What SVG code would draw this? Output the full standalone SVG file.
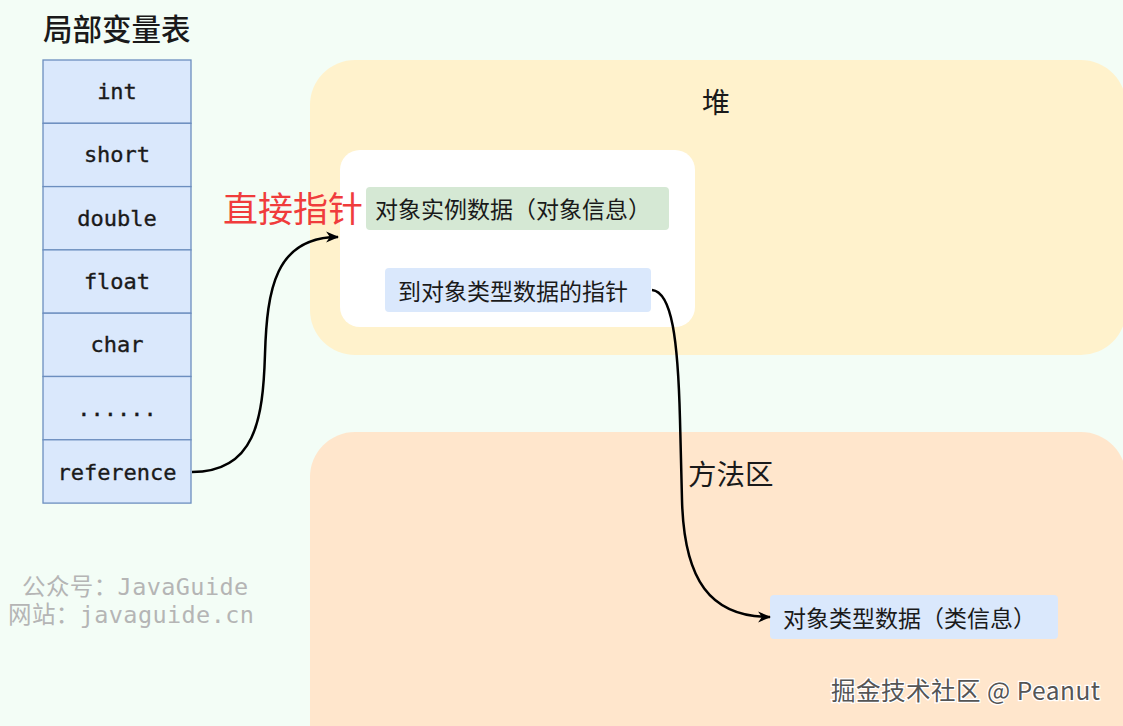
<svg xmlns="http://www.w3.org/2000/svg" width="1123" height="726" viewBox="0 0 1123 726">
<style>
.cjk{font-family:"Noto Sans CJK SC","Liberation Sans",sans-serif;}
.mono{font-family:"DejaVu Sans Mono","Liberation Mono","Noto Sans CJK SC",monospace;font-size:22px;fill:#1a1a1a;stroke:#1a1a1a;stroke-width:0.35;text-anchor:middle;}
.cell{fill:#dae8fc;stroke:#6c8ebf;stroke-width:1.3;}
.boxtxt{font-family:"Noto Sans CJK SC","Liberation Sans",sans-serif;font-size:23px;fill:#1a1a1a;}
.wm{font-family:"DejaVu Sans Mono","Noto Sans CJK SC",monospace;font-size:23.5px;fill:#b5b5b5;letter-spacing:0.4px;}
.conn{fill:none;stroke:#000;stroke-width:2.5;}
</style>
<defs>
<marker id="arrow" viewBox="0 0 12 12" refX="11" refY="6" markerWidth="13" markerHeight="13" markerUnits="userSpaceOnUse" orient="auto">
<path d="M0,1 L12,6 L0,11 L3.5,6 Z" fill="#000"/>
</marker>
</defs>
<rect x="0" y="0" width="1123" height="726" fill="#f3fdf6"/>

<g id="heap">
<rect x="310" y="60" width="816" height="295" rx="45" ry="45" fill="#fff2cc"/>
<text class="cjk" x="702" y="113" font-size="28" fill="#1a1a1a">堆</text>
</g>
<g id="method-area">
<rect x="310" y="432" width="816" height="340" rx="45" ry="45" fill="#ffe6cc"/>
<text class="cjk" x="688" y="485" font-size="28.5" fill="#1a1a1a">方法区</text>
</g>
<g id="object">
<rect x="340" y="150" width="355" height="177" rx="20" ry="20" fill="#ffffff"/>
</g>
<g id="instance-data">
<rect x="366" y="187" width="303" height="43" rx="4" fill="#d5e8d4"/>
<text class="boxtxt" x="375" y="218">对象实例数据（对象信息）</text>
</g>
<g id="type-pointer">
<rect x="385" y="268" width="266" height="44" rx="4" fill="#dae8fc"/>
<text class="boxtxt" x="398" y="300" font-size="23.4">到对象类型数据的指针</text>
</g>
<g id="class-data">
<rect x="770" y="595" width="288" height="44" rx="4" fill="#dae8fc"/>
<text class="boxtxt" x="783" y="627" font-size="23.3">对象类型数据（类信息）</text>
</g>

<g id="local-vars">
<text class="cjk" x="43" y="40" font-size="29.5" font-weight="500" fill="#1a1a1a">局部变量表</text>
<rect class="cell" x="43" y="60" width="148" height="63.3"/>
<rect class="cell" x="43" y="123.3" width="148" height="63.3"/>
<rect class="cell" x="43" y="186.6" width="148" height="63.3"/>
<rect class="cell" x="43" y="249.9" width="148" height="63.3"/>
<rect class="cell" x="43" y="313.2" width="148" height="63.3"/>
<rect class="cell" x="43" y="376.5" width="148" height="63.3"/>
<rect class="cell" x="43" y="439.8" width="148" height="63.3"/>
<text class="mono" x="117" y="99">int</text>
<text class="mono" x="117" y="162">short</text>
<text class="mono" x="117" y="226">double</text>
<text class="mono" x="117" y="289">float</text>
<text class="mono" x="117" y="352">char</text>
<text class="mono" x="117" y="416">......</text>
<text class="mono" x="117" y="480">reference</text>
</g>

<g id="connectors">
<path class="conn" d="M192,472 C255,472 263,420 265,354 C267,290 275,237 338,237" marker-end="url(#arrow)"/>
<path class="conn" d="M652,290 C672,292 678,340 680,420 L682,500 C684,580 710,617 770,617" marker-end="url(#arrow)"/>
</g>

<g id="labels">
<text class="cjk" x="223" y="222" font-size="35" fill="#f03c3c">直接指针</text>
<text class="wm" x="22" y="595">公众号：JavaGuide</text>
<text class="wm" x="8" y="623">网站：javaguide.cn</text>
<text class="cjk" x="831" y="700" font-size="24.5" letter-spacing="0.5" fill="#555555" stroke="#ffffff" stroke-width="2.5" paint-order="stroke">掘金技术社区 @ Peanut</text>
</g>
</svg>
